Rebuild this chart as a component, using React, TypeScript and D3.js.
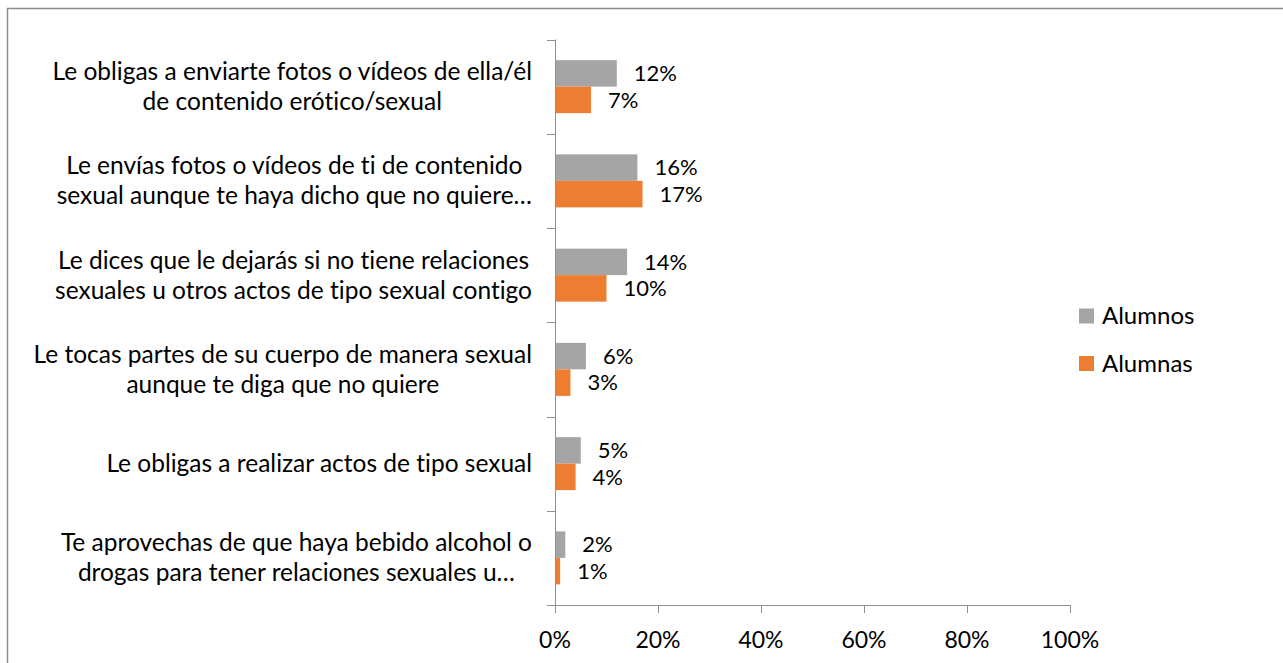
import React, { useEffect, useRef } from "react";
import * as d3 from "d3";

const categories: string[][] = [
  ["Le obligas a enviarte fotos o vídeos de ella/él", "de contenido erótico/sexual"],
  ["Le envías fotos o vídeos de ti de contenido", "sexual aunque te haya dicho que no quiere…"],
  ["Le dices que le dejarás si no tiene relaciones", "sexuales u otros actos de tipo sexual contigo"],
  ["Le tocas partes de su cuerpo de manera sexual", "aunque te diga que no quiere"],
  ["Le obligas a realizar actos de tipo sexual"],
  ["Te aprovechas de que haya bebido alcohol o", "drogas para tener relaciones sexuales u…"],
];
const alumnos = [12, 16, 14, 6, 5, 2];
const alumnas = [7, 17, 10, 3, 4, 1];
const seriesNames = ["Alumnos", "Alumnas"];
const xTicks = [0, 20, 40, 60, 80, 100];

const colors = ["#A5A5A5", "#ED7D31"];
const FONT = "Lato, 'Open Sans', sans-serif";

export default function App() {
  const ref = useRef<SVGSVGElement>(null);

  useEffect(() => {
    const svg = d3.select(ref.current);
    svg.selectAll("*").remove();
    svg.style("font-variant-ligatures", "none");

    const width = 1283, height = 663;
    const left = 555, right = 1070, top = 39.5, bottom = 605;

    // outer border (right / bottom edges fall off the page)
    svg.append("rect")
      .attr("x", 7.5).attr("y", 8.5)
      .attr("width", width + 20).attr("height", height + 20)
      .attr("fill", "#fff").attr("stroke", "#8c8c8c").attr("stroke-width", 1.5);

    const x = d3.scaleLinear().domain([0, 100]).range([left, right]);
    const y = d3.scaleBand<number>().domain(d3.range(categories.length)).range([top, bottom]);
    const inner = d3.scaleBand<number>().domain([0, 1]).range([0, 53]);
    const barOff = (y.bandwidth() - 53) / 2;

    // y axis
    const axisColor = "#8e8e8e";
    svg.append("line")
      .attr("x1", left + 0.5).attr("x2", left + 0.5).attr("y1", top).attr("y2", bottom)
      .attr("stroke", axisColor).attr("stroke-width", 1);
    const yTickPos = d3.range(categories.length + 1).map((i) => top + i * y.bandwidth());
    svg.selectAll(".ytick").data(yTickPos).enter().append("line")
      .attr("x1", left - 8).attr("x2", left + 0.5)
      .attr("y1", (d) => Math.round(d) + 0.5).attr("y2", (d) => Math.round(d) + 0.5)
      .attr("stroke", axisColor);

    // x axis
    svg.append("line")
      .attr("x1", left).attr("x2", right + 0.5).attr("y1", bottom + 0.5).attr("y2", bottom + 0.5)
      .attr("stroke", axisColor);
    svg.selectAll(".xtick").data(xTicks).enter().append("line")
      .attr("x1", (d) => Math.round(x(d)) + 0.5).attr("x2", (d) => Math.round(x(d)) + 0.5)
      .attr("y1", bottom).attr("y2", bottom + 8)
      .attr("stroke", axisColor);
    svg.selectAll(".xlabel").data(xTicks).enter().append("text")
      .attr("x", (d) => x(d)).attr("y", 640)
      .attr("dy", "0.35em")
      .attr("text-anchor", "middle")
      .attr("font-family", FONT).attr("font-size", 23).attr("fill", "#000")
      .text((d) => d + "%");

    // bars
    const series = [alumnos, alumnas];
    series.forEach((vals, s) => {
      const g = svg.append("g");
      g.selectAll("rect").data(vals).enter().append("rect")
        .attr("x", left + 1)
        .attr("y", (_, i) => (y(i) as number) + barOff + (inner(s) as number))
        .attr("width", (d) => x(d) - left - 1)
        .attr("height", inner.bandwidth())
        .attr("fill", colors[s]);
      g.selectAll("text").data(vals).enter().append("text")
        .attr("x", (d) => x(d) + 17)
        .attr("y", (_, i) => (y(i) as number) + barOff + (inner(s) as number) + inner.bandwidth() / 2)
        .attr("dy", "0.35em")
        .attr("font-family", FONT).attr("font-size", 22).attr("fill", "#000")
        .text((d) => d + "%");
    });

    // category labels
    const lineH = 30;
    const labelRight = 532;
    categories.forEach((lines, i) => {
      const g = svg.append("g");
      const cy = (y(i) as number) + y.bandwidth() / 2;
      const texts = lines.map((l, j) =>
        g.append("text")
          .attr("y", cy + (j - (lines.length - 1) / 2) * lineH)
          .attr("dy", "0.35em")
          .attr("text-anchor", "middle")
          .attr("font-family", FONT).attr("font-size", 24.5).attr("fill", "#000")
          .text(l)
      );
      const maxW = d3.max(texts, (t) => (t.node() as SVGTextElement).getComputedTextLength()) || 0;
      texts.forEach((t) => t.attr("x", labelRight - maxW / 2));
    });

    // legend
    seriesNames.forEach((name, s) => {
      const ly = 316 + s * 47.5;
      svg.append("rect")
        .attr("x", 1079).attr("y", ly - 7.5).attr("width", 15).attr("height", 15)
        .attr("fill", colors[s]);
      svg.append("text")
        .attr("x", 1102).attr("y", ly).attr("dy", "0.35em")
        .attr("font-family", FONT).attr("font-size", 24).attr("fill", "#000")
        .text(name);
    });
  }, []);

  return (
    <svg
      ref={ref}
      width={1283}
      height={663}
      style={{ position: "absolute", left: 0, top: 0, display: "block" }}
    />
  );
}
